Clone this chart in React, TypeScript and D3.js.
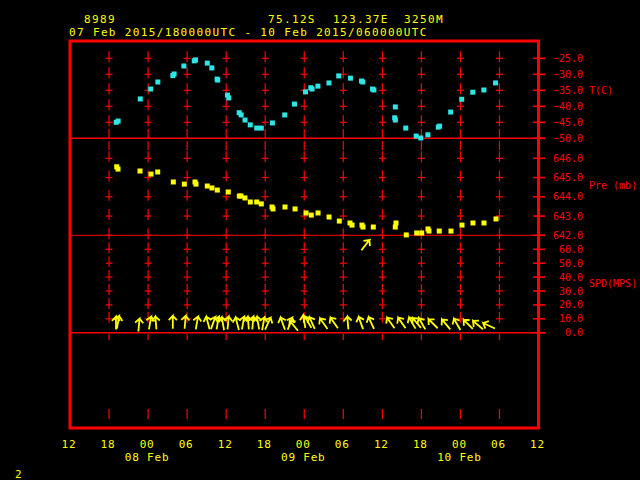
import React from "react";
import * as d3 from "d3";

const WIDTH = 640;
const HEIGHT = 480;
const FRAME = { left: 70, right: 538.5, top: 41, bottom: 428 };
const RED = "#ff0000";
const YELLOW = "#ffff00";
const CYAN = "#2ee6e6";
const MONO = "'DejaVu Sans Mono', monospace";

// hours after 07 Feb 2015 12 UTC
const timeTicks = [0, 6, 12, 18, 24, 30, 36, 42, 48, 54, 60, 66, 72];
const timeLabels = ["12", "18", "00", "06", "12", "18", "00", "06", "12", "18", "00", "06", "12"];
const dayLabels = [
  { hour: 12, text: "08 Feb" },
  { hour: 36, text: "09 Feb" },
  { hour: 60, text: "10 Feb" },
];

const tempTicks = [-25, -30, -35, -40, -45, -50];
const presTicks = [646, 645, 644, 643, 642];
const spdTicks = [60, 50, 40, 30, 20, 10, 0];

const tempHours = [7.1, 7.4, 10.8, 12.4, 13.5, 15.8, 16.0, 17.5, 19.1, 19.3, 21.1, 21.8, 22.6, 22.7, 24.2,
  24.4, 26.0, 26.3, 26.9, 27.7, 28.7, 29.4, 31.1, 33.0, 34.5, 36.2, 37.0, 37.2, 38.1, 39.8,
  41.3, 43.1, 44.8, 45.0, 46.5, 46.7, 50.0, 49.9, 50.0, 51.6, 53.2, 53.9, 55.0, 56.6, 56.8,
  58.5, 60.2, 61.9, 63.6, 65.4];
const tempValues = [-45.0, -44.6, -37.7, -34.6, -32.4, -30.4, -29.9, -27.4, -25.8, -25.5, -26.5, -28.0, -31.5, -31.8, -36.5,
  -37.4, -42.0, -42.7, -44.3, -45.8, -46.8, -46.8, -45.2, -42.7, -39.3, -35.5, -34.2, -34.6, -33.7, -32.7,
  -30.5, -31.2, -32.1, -32.4, -34.6, -34.9, -40.2, -43.6, -44.3, -46.8, -49.3, -49.9, -48.9, -46.5, -46.2,
  -41.8, -37.8, -35.6, -34.9, -32.7];

const presHours = [7.18, 7.38, 10.76, 12.45, 13.48, 15.88, 17.57, 19.21, 19.36, 21.10, 21.82, 22.64, 24.33, 26.02, 26.28,
  26.89, 27.71, 28.69, 29.40, 31.05, 31.20, 33.04, 34.59, 36.28, 37.08, 38.12, 39.81, 41.39, 43.03, 43.34,
  44.87, 45.03, 46.61, 50.10, 49.99, 51.68, 53.28, 54.05, 55.02, 55.17, 56.75, 58.55, 60.24, 61.93, 63.62, 65.47];
const presValues = [645.56, 645.44, 645.34, 645.18, 645.29, 644.77, 644.66, 644.77, 644.66, 644.56, 644.46, 644.35, 644.25, 644.04, 644.04,
  643.94, 643.73, 643.73, 643.63, 643.47, 643.37, 643.47, 643.37, 643.16, 643.05, 643.16, 642.95, 642.74, 642.64, 642.53,
  642.53, 642.43, 642.43, 642.64, 642.43, 642.02, 642.12, 642.12, 642.33, 642.22, 642.22, 642.22, 642.53, 642.64, 642.64, 642.85];

// wind: direction the arrow points to (deg clockwise from north), speed in m/s
const windHours = [7.07, 7.38, 10.6, 12.3, 13.2, 15.8, 17.7, 19.5, 21.2, 22.0, 22.7, 23.5, 24.3, 25.7, 26.6,
  27.4, 28.1, 28.9, 29.7, 30.4, 32.7, 33.8, 34.4, 36.0, 36.6, 37.2, 39.0, 40.6, 42.7, 44.7,
  45.4, 46.3, 49.3, 51.0, 52.6, 53.3, 54.1, 55.8, 57.8, 59.5, 61.2, 62.7, 64.4];
const windDir = [0, 10, 5, 10, 355, 0, 5, 10, 345, 20, 10, 350, 5, 345, 10,
  355, 5, 350, 10, 25, 340, 20, 320, 350, 330, 335, 325, 325, 355, 340,
  38, 335, 325, 325, 330, 320, 330, 315, 320, 330, 315, 310, 295];
const windSpd = [7, 7.5, 5.5, 7, 7, 7.5, 7.5, 7, 7, 7, 7, 6.5, 7, 6.5, 7,
  7, 7, 7, 6.5, 6.5, 6.5, 6.5, 5, 8, 7.5, 7, 6.5, 7, 7, 7,
  63, 7, 7, 7, 7, 7, 6.5, 6.5, 6, 6, 6, 5.5, 5];

const ARROW_LEN = 13;

const App = () => {
  const x = d3.scaleLinear().domain([0, 72]).range([FRAME.left, FRAME.right]);
  const yT = d3.scaleLinear().domain([-50, -25]).range([138.3, 58.3]);
  const yP = d3.scaleLinear().domain([642, 646]).range([235.3, 158.3]);
  const yS = d3.scaleLinear().domain([0, 60]).range([332.7, 249.3]);

  const gridCols = timeTicks.slice(1, -1);
  const crossYs = [
    ...tempTicks.slice(0, -1).map((t) => yT(t)),
    ...presTicks.map((p) => yP(p)),
    ...spdTicks.slice(0, -1).map((s) => yS(s)),
  ];
  const extraSegs: [number, number][] = [[129, 138], [141, 150], [334, 340], [409, 419]];

  const tickRows = [
    ...tempTicks.map((t) => ({ y: yT(t), text: d3.format(".1f")(t) })),
    ...presTicks.map((p) => ({ y: yP(p), text: d3.format(".1f")(p) })),
    ...spdTicks.map((s) => ({ y: yS(s), text: d3.format(".1f")(s) })),
  ];

  const arrows = windHours.map((h, i) => {
    const a = (windDir[i] * Math.PI) / 180;
    const ux = Math.sin(a);
    const uy = -Math.cos(a);
    const cx = x(h);
    const cy = yS(windSpd[i]);
    const hx = cx + (ux * ARROW_LEN) / 2;
    const hy = cy + (uy * ARROW_LEN) / 2;
    const tx = cx - (ux * ARROW_LEN) / 2;
    const ty = cy - (uy * ARROW_LEN) / 2;
    const barb = (sign: number) => {
      const b = a + Math.PI + sign * 0.75;
      return `L${hx + Math.sin(b) * 6},${hy - Math.cos(b) * 6}`;
    };
    return `M${tx},${ty}L${hx},${hy}${barb(1)}M${hx},${hy}${barb(-1)}`;
  });

  return (
    <div style={{ position: "fixed", left: 0, top: 0, width: WIDTH, height: HEIGHT, background: "#000" }}>
      <svg width={WIDTH} height={HEIGHT} style={{ display: "block", background: "#000" }}>
        {/* header */}
        <g fill={YELLOW} fontFamily={MONO} fontSize={11} letterSpacing={1.35}>
          <text x={84} y={23}>8989</text>
          <text x={268} y={23}>75.12S</text>
          <text x={333} y={23}>123.37E</text>
          <text x={404} y={23}>3250M</text>
          <text x={69} y={36}>07 Feb 2015/180000UTC - 10 Feb 2015/060000UTC</text>
        </g>

        {/* grid crosses */}
        <g stroke={RED} strokeWidth={1.2}>
          {gridCols.map((h) => (
            <g key={`col${h}`}>
              {crossYs.map((cy, j) => (
                <g key={j}>
                  <line x1={x(h)} x2={x(h)} y1={cy - 7} y2={cy + 4} />
                  <line x1={x(h) - 3.5} x2={x(h) + 3.5} y1={cy} y2={cy} />
                </g>
              ))}
              {extraSegs.map(([a, b], j) => (
                <line key={`e${j}`} x1={x(h)} x2={x(h)} y1={a} y2={b} />
              ))}
            </g>
          ))}
        </g>

        {/* panel dividers */}
        <line x1={FRAME.left} x2={545} y1={yT(-50)} y2={yT(-50)} stroke={RED} strokeWidth={1.6} />
        <line x1={FRAME.left} x2={545} y1={yP(642)} y2={yP(642)} stroke={RED} strokeWidth={1} />
        <line x1={FRAME.left} x2={545} y1={yS(0)} y2={yS(0)} stroke={RED} strokeWidth={1.6} />

        {/* right axis ticks and labels */}
        <g stroke={RED} strokeWidth={1.6}>
          {tickRows.map((r, i) => (
            <line key={i} x1={533} x2={545} y1={r.y} y2={r.y} />
          ))}
        </g>
        <g fill={RED} fontFamily={MONO} fontSize={10}>
          {tickRows.map((r, i) => (
            <text key={i} x={583} y={r.y + 3.5} textAnchor="end">{r.text}</text>
          ))}
          <text x={589} y={yT(-35) + 3.5}>T(C)</text>
          <text x={589} y={189}>Pre (mb)</text>
          <text x={589} y={287}>SPD(MPS)</text>
        </g>

        {/* temperature */}
        <g fill={CYAN}>
          {tempHours.map((h, i) => (
            <rect key={i} x={x(h) - 2.5} y={yT(tempValues[i]) - 2.5} width={5} height={5} />
          ))}
        </g>

        {/* pressure */}
        <g fill={YELLOW}>
          {presHours.map((h, i) => (
            <rect key={i} x={x(h) - 2.5} y={yP(presValues[i]) - 2.5} width={5} height={5} />
          ))}
        </g>

        {/* wind arrows */}
        <g stroke={YELLOW} strokeWidth={1.8} fill="none">
          {arrows.map((d, i) => (
            <path key={i} d={d} />
          ))}
        </g>

        {/* frame */}
        <rect
          x={FRAME.left}
          y={FRAME.top}
          width={FRAME.right - FRAME.left}
          height={FRAME.bottom - FRAME.top}
          fill="none"
          stroke={RED}
          strokeWidth={3}
        />

        {/* time axis labels */}
        <g fill={YELLOW} fontFamily={MONO} fontSize={11} letterSpacing={0.8} textAnchor="middle">
          {timeTicks.map((h, i) => (
            <text key={i} x={x(h) - 1} y={448}>{timeLabels[i]}</text>
          ))}
          {dayLabels.map((d) => (
            <text key={d.text} x={x(d.hour) - 1} y={461}>{d.text}</text>
          ))}
        </g>
        <text x={15} y={478} fill={YELLOW} fontFamily={MONO} fontSize={11}>2</text>
      </svg>
    </div>
  );
};

export default App;
